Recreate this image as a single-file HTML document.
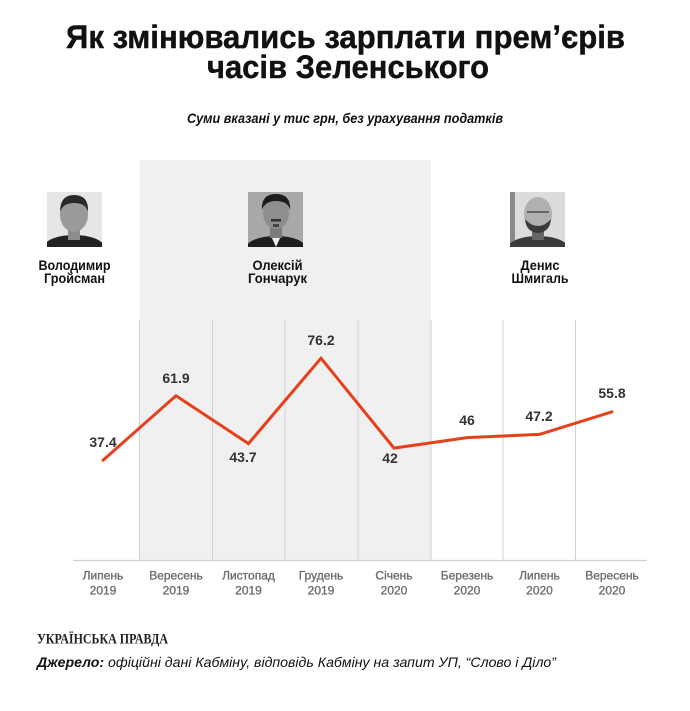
<!DOCTYPE html>
<html>
<head>
<meta charset="utf-8">
<style>
  html, body { margin: 0; padding: 0; background: #ffffff; }
  svg { display: block; }
  text { font-family: "Liberation Sans", "DejaVu Sans", sans-serif; }
</style>
</head>
<body>
<svg width="690" height="711" viewBox="0 0 690 711" xmlns="http://www.w3.org/2000/svg">
  <rect x="0" y="0" width="690" height="711" fill="#ffffff"/>

  <!-- Title -->
  <text x="345.5" y="48" text-anchor="middle" font-size="32" font-weight="bold" fill="#111" stroke="#111" stroke-width="0.4" textLength="559" lengthAdjust="spacingAndGlyphs">Як змінювались зарплати прем’єрів</text>
  <text x="348" y="78" text-anchor="middle" font-size="32" font-weight="bold" fill="#111" stroke="#111" stroke-width="0.4" textLength="282" lengthAdjust="spacingAndGlyphs">часів Зеленського</text>

  <!-- Subtitle -->
  <text x="345" y="123" text-anchor="middle" font-size="14" font-weight="bold" font-style="italic" fill="#111" textLength="316" lengthAdjust="spacingAndGlyphs">Суми вказані у тис грн, без урахування податків</text>

  <!-- Gray band (Goncharuk period) -->
  <rect x="139.5" y="160" width="291.5" height="400" fill="#f0f0f0"/>

  <!-- Vertical gridlines -->
  <g stroke="#d2d2d2" stroke-width="1">
    <line x1="139.5" y1="320" x2="139.5" y2="560"/>
    <line x1="212.5" y1="320" x2="212.5" y2="560"/>
    <line x1="285" y1="320" x2="285" y2="560"/>
    <line x1="358" y1="320" x2="358" y2="560"/>
    <line x1="431" y1="320" x2="431" y2="560"/>
    <line x1="503" y1="320" x2="503" y2="560"/>
    <line x1="575.5" y1="320" x2="575.5" y2="560"/>
  </g>

  <!-- Axis line -->
  <line x1="73" y1="560.5" x2="647" y2="560.5" stroke="#cfcfcf" stroke-width="1.2"/>

  <!-- Photos -->
  <g>
    <defs>
      <clipPath id="c1"><rect x="47" y="192" width="55" height="55"/></clipPath>
      <clipPath id="c2"><rect x="248" y="192" width="55" height="55"/></clipPath>
      <clipPath id="c3"><rect x="510" y="192" width="55" height="55"/></clipPath>
    </defs>
    <g clip-path="url(#c1)">
      <rect x="47" y="192" width="55" height="55" fill="#e6e6e6"/>
      <ellipse cx="74" cy="247" rx="30" ry="12" fill="#222"/>
      <rect x="68" y="228" width="12" height="12" fill="#8c8c8c"/>
      <ellipse cx="74" cy="215" rx="14" ry="17" fill="#9a9a9a"/>
      <path d="M60 212 Q60 195 74 195 Q89 195 88 212 Q86 203 74 203 Q63 203 60 212 Z" fill="#2a2a2a"/>
    </g>
    <g clip-path="url(#c2)">
      <rect x="248" y="192" width="55" height="55" fill="#a8a8a8"/>
      <ellipse cx="276" cy="248" rx="30" ry="12" fill="#1e1e1e"/>
      <path d="M271 236 L281 236 L276 247 Z" fill="#eee"/>
      <rect x="270" y="226" width="12" height="12" fill="#7a7a7a"/>
      <ellipse cx="276" cy="213" rx="13" ry="16" fill="#8e8e8e"/>
      <path d="M262 210 Q261 194 276 194 Q291 194 290 210 Q288 201 276 201 Q265 201 262 210 Z" fill="#1c1c1c"/>
      <rect x="271" y="219" width="10" height="2.5" fill="#333"/>
      <rect x="273" y="224" width="6" height="3" fill="#444"/>
    </g>
    <g clip-path="url(#c3)">
      <rect x="510" y="192" width="55" height="55" fill="#dcdcdc"/>
      <rect x="510" y="192" width="5" height="55" fill="#8a8a8a"/>
      <ellipse cx="538" cy="248" rx="30" ry="12" fill="#3a3a3a"/>
      <rect x="532" y="228" width="12" height="12" fill="#666"/>
      <ellipse cx="538" cy="214" rx="14" ry="17" fill="#b0b0b0"/>
      <path d="M525 219 Q526 232 538 233 Q550 232 551 219 Q545 226 538 226 Q531 226 525 219 Z" fill="#3a3a3a"/>
      <rect x="527" y="211" width="22" height="2" fill="#666"/>
    </g>
  </g>

  <!-- Names -->
  <g font-size="14" font-weight="bold" fill="#111" text-anchor="middle">
    <text x="74.5" y="270" textLength="72" lengthAdjust="spacingAndGlyphs">Володимир</text>
    <text x="74.5" y="283" textLength="61" lengthAdjust="spacingAndGlyphs">Гройсман</text>
    <text x="277.5" y="270" textLength="50" lengthAdjust="spacingAndGlyphs">Олексій</text>
    <text x="277.5" y="283" textLength="59" lengthAdjust="spacingAndGlyphs">Гончарук</text>
    <text x="540" y="270" textLength="39" lengthAdjust="spacingAndGlyphs">Денис</text>
    <text x="540" y="283" textLength="57" lengthAdjust="spacingAndGlyphs">Шмигаль</text>
  </g>

  <!-- Data line -->
  <polyline fill="none" stroke="#e5401b" stroke-width="3" stroke-linejoin="miter" stroke-linecap="round"
    points="103,460.2 176,395.8 248.5,443.6 321,358.2 394,448.1 467,437.6 539.5,434.4 612,411.8"/>

  <!-- Data labels -->
  <g font-size="14" font-weight="bold" fill="#333" text-anchor="middle">
    <text x="103" y="447">37.4</text>
    <text x="176" y="383">61.9</text>
    <text x="243" y="462">43.7</text>
    <text x="321" y="345">76.2</text>
    <text x="390" y="463">42</text>
    <text x="467" y="425">46</text>
    <text x="539" y="421">47.2</text>
    <text x="612" y="398">55.8</text>
  </g>

  <!-- Axis labels -->
  <g font-size="12" fill="#6e6e6e" stroke="#6e6e6e" stroke-width="0.35" text-anchor="middle">
    <text x="103" y="579.5">Липень</text>
    <text x="103" y="594.5">2019</text>
    <text x="176" y="579.5">Вересень</text>
    <text x="176" y="594.5">2019</text>
    <text x="248.5" y="579.5">Листопад</text>
    <text x="248.5" y="594.5">2019</text>
    <text x="321" y="579.5">Грудень</text>
    <text x="321" y="594.5">2019</text>
    <text x="394" y="579.5">Січень</text>
    <text x="394" y="594.5">2020</text>
    <text x="467" y="579.5">Березень</text>
    <text x="467" y="594.5">2020</text>
    <text x="539.5" y="579.5">Липень</text>
    <text x="539.5" y="594.5">2020</text>
    <text x="612" y="579.5">Вересень</text>
    <text x="612" y="594.5">2020</text>
  </g>

  <!-- Footer logo -->
  <text x="37" y="643.5" font-size="15" font-weight="bold" fill="#222" textLength="131" lengthAdjust="spacingAndGlyphs" style="font-family:'Liberation Serif', serif">УКРАЇНСЬКА ПРАВДА</text>

  <!-- Source -->
  <text x="37" y="667" font-size="14" font-style="italic" fill="#111" textLength="519" lengthAdjust="spacingAndGlyphs"><tspan font-weight="bold">Джерело:</tspan> офіційні дані Кабміну, відповідь Кабміну на запит УП, “Слово і Діло”</text>
</svg>
</body>
</html>
